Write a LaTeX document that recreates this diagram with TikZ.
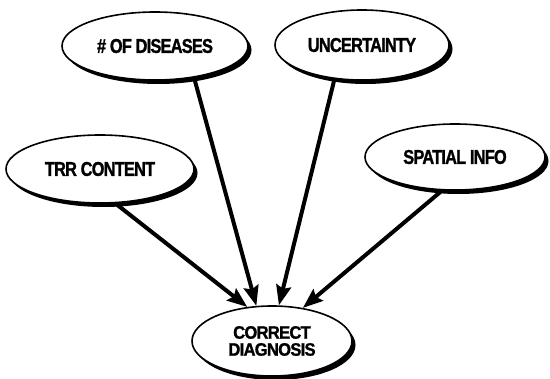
\documentclass[tikz,border=0pt]{standalone}
\usepackage{fontspec}
\newfontfamily\lblfont{Liberation Sans}[FakeStretch=0.82, LetterSpace=-4, FakeBold=1.2]
\newfontfamily\lblfontb{Liberation Sans}[FakeStretch=0.92, LetterSpace=-4, FakeBold=1.2]
\usetikzlibrary{shapes.geometric,arrows.meta,shadows}
\begin{document}
\begin{tikzpicture}[x=1pt,y=-1pt,
  ell/.style={ellipse, draw=black, line width=1.6pt, fill=white, inner sep=0pt,
    align=center, text=black,
    font=\lblfont\bfseries\fontsize{20}{20}\selectfont,
    drop shadow={shadow xshift=3.5pt, shadow yshift=-4pt, fill=black, opacity=1}},
  arr/.style={line width=4pt, draw=black, -{Stealth[length=20pt,width=15pt,inset=3pt]}}
]
\fill[white] (0,0) rectangle (550,379);
\useasboundingbox (0,0) rectangle (550,379);

\node[ell, minimum width=186pt, minimum height=68pt] (dis) at (155,46) {\# OF DISEASES};
\node[ell, minimum width=174pt, minimum height=70pt] (unc) at (362,45) {UNCERTAINTY};
\node[ell, minimum width=188pt, minimum height=68pt] (trr) at (100,169) {TRR CONTENT};
\node[ell, minimum width=180pt, minimum height=66pt] (spa) at (455,157) {SPATIAL INFO};
\node[ell, minimum width=160pt, minimum height=70pt,
  font=\lblfontb\bfseries\fontsize{18}{17}\selectfont] (cd) at (272,341) {CORRECT\\DIAGNOSIS};

\draw[arr] (trr.-66) -- (cd.126);
\draw[arr] (dis.-39) -- (cd.114);
\draw[arr] (unc.-129) -- (cd.79);
\draw[arr] (spa.-111) -- (cd.47);
\end{tikzpicture}
\end{document}
